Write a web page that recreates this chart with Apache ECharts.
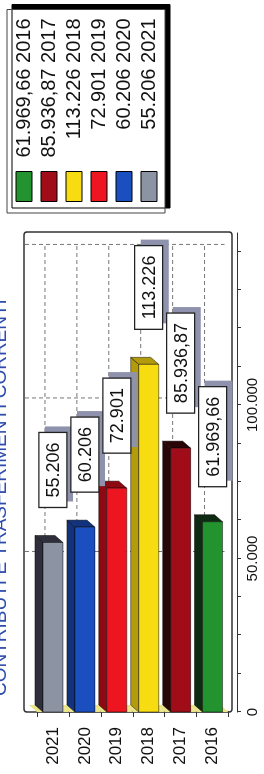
<!DOCTYPE html>
<html><head><meta charset="utf-8">
<script src="https://cdn.jsdelivr.net/npm/echarts@6/dist/echarts.min.js"></script>
<style>
html,body{margin:0;padding:0;width:264px;height:774px;overflow:hidden;background:#fff}
#chart{position:absolute;left:0;top:0;width:774px;height:264px;transform-origin:0 0;transform:translate(0,774px) rotate(-90deg);}
</style></head><body><div id="chart"></div>
<script>
// ---- data ----
const categories = ['2016', '2017', '2018', '2019', '2020', '2021'];
const values = [61969.66, 85936.87, 113226, 72901, 60206, 55206];
const valueTickLabels = [0, 50000, 100000];
const gridValues = [50000, 100000, 150000];
const titleText = 'CONTRIBUTI E TRASFERIMENTI CORRENTI';

// ---- styles ----
const faceColors = ['#22932f', '#a00c18', '#f7dc12', '#ec1520', '#1b4fbf', '#8c93a3'];
const sideColors = ['#0f2a12', '#2a0508', '#b39b0c', '#8e0a12', '#12327e', '#2e2f3a'];
const FONT = 'Liberation Sans, Arial, Helvetica, sans-serif';
const LABEL_FONT = '18px ' + FONT;
const DX = 7, DY = -8, HALF = 10;

const measureCtx = document.createElement('canvas').getContext('2d');
function textWidth(t, font) { measureCtx.font = font; return measureCtx.measureText(t).width; }

function fmtIt(v) {
  let intPart, dec = '';
  if (Number.isInteger(v)) intPart = String(v);
  else { const s = v.toFixed(2).split('.'); intPart = s[0]; dec = s[1]; }
  intPart = intPart.replace(/\B(?=(\d{3})+(?!\d))/g, '.');
  return intPart + (dec ? ',' + dec : '');
}

function barRender(i) {
  return function (params, api) {
    const val = api.value(0), cat = api.value(1);
    const p0 = api.coord([0, cat]), p1 = api.coord([val, cat]);
    const top = p0[1] - HALF, bot = p0[1] + HALF;
    const x0 = p0[0], x1 = p1[0];
    const stroke = 'rgba(0,0,0,0.6)';
    const txt = fmtIt(val);
    const bw = textWidth(txt, LABEL_FONT) + 20, bh = 28;
    const bx = x1 + 35, by = p0[1] - bh / 2;
    return {
      type: 'group', children: [
        { type: 'polygon', shape: { points: [[x0, top], [x1, top], [x1 + DX, top + DY], [x0 + DX, top + DY]] },
          style: { fill: sideColors[i], stroke: stroke, lineWidth: 0.8 } },
        { type: 'polygon', shape: { points: [[x1, top], [x1, bot], [x1 + DX, bot + DY], [x1 + DX, top + DY]] },
          style: { fill: sideColors[i], stroke: stroke, lineWidth: 0.8 } },
        { type: 'rect', shape: { x: x0, y: top, width: x1 - x0, height: bot - top },
          style: { fill: faceColors[i], stroke: stroke, lineWidth: 0.8 } },
        { type: 'rect', z2: 40, shape: { x: bx + 6, y: by + 6, width: bw, height: bh },
          style: { fill: '#8e92ac', stroke: null } },
        { type: 'rect', z2: 41, shape: { x: bx, y: by, width: bw, height: bh },
          style: { fill: '#fff', stroke: '#222', lineWidth: 1.3 } },
        { type: 'text', z2: 42, x: bx + 10, y: p0[1] + 1,
          style: { text: txt, font: LABEL_FONT, fill: '#111', align: 'left', verticalAlign: 'middle' } }
      ]
    };
  };
}

const barSeries = categories.map((c, i) => ({
  type: 'custom', name: c, z: 3,
  itemStyle: { color: faceColors[i] },
  encode: { x: 0, y: 1 },
  data: [[values[i], c]],
  renderItem: barRender(i)
}));

const catLineSeries = {
  type: 'custom', name: 'catlines', z: 1, silent: true,
  encode: { x: 0, y: 1 },
  data: categories.map(c => [0, c]),
  renderItem: function (params, api) {
    const cat = api.value(1);
    const p = api.coord([0, cat]);
    const pt = api.coord([gridValues[gridValues.length - 1], cat]);
    const b = api.size([0, 1])[1];
    return {
      type: 'group', children: [
        { type: 'polygon', shape: { points: [[p[0], p[1] - b / 2], [p[0], p[1] + b / 2], [p[0] + DX, p[1] + b / 2 + DY], [p[0] + DX, p[1] - b / 2 + DY]] },
          style: { fill: '#ece48a', stroke: null } },
        { type: 'line', shape: { x1: p[0] + DX, y1: p[1] + DY, x2: pt[0] + DX, y2: p[1] + DY },
          style: { stroke: '#777', lineWidth: 1, lineDash: [4, 3] } }
      ]
    };
  }
};

const valLineSeries = {
  type: 'custom', name: 'vallines', z: 1, silent: true,
  encode: { x: 0, y: 1 },
  data: gridValues.map(v => [v, categories[0]]),
  renderItem: function (params, api) {
    const v = api.value(0);
    const b = api.size([0, 1])[1];
    const pT = api.coord([v, categories.length - 1]);
    const pB = api.coord([v, 0]);
    return { type: 'line', shape: { x1: pT[0] + DX, y1: pT[1] - b / 2 - 4 + DY, x2: pT[0] + DX, y2: pB[1] + b / 2 + 4 + DY },
      style: { stroke: '#777', lineWidth: 1, lineDash: [4, 3] } };
  }
};

const chart = echarts.init(document.getElementById('chart'), null, { renderer: 'canvas' });
chart.setOption({
  animation: false,
  backgroundColor: '#fff',
  title: { text: titleText, left: 78, top: -8, padding: 0,
    textStyle: { color: '#2d4cae', fontSize: 19, fontWeight: 'normal', fontFamily: FONT, lineHeight: 18 } },
  legend: {
    data: categories, orient: 'vertical', left: 561, top: 7,
    padding: [7, 9, 6, 11], itemWidth: 30, itemHeight: 16, itemGap: 5, icon: 'rect',
    backgroundColor: '#fff', borderColor: '#444', borderWidth: 1,
    shadowColor: '#000', shadowBlur: 0, shadowOffsetX: 5, shadowOffsetY: 5,
    itemStyle: { borderColor: '#000', borderWidth: 1 },
    selectedMode: false,
    formatter: name => '{v|' + fmtIt(values[categories.indexOf(name)]) + ' ' + name + '}',
    textStyle: { fontFamily: FONT, fontSize: 20, color: '#111', lineHeight: 16,
      rich: { v: { width: 148, align: 'right', fontSize: 20, lineHeight: 16, fontFamily: FONT, color: '#111' } } }
  },
  grid: { left: 62, right: 233, top: 37, bottom: 35.5, containLabel: false },
  xAxis: {
    type: 'value', min: 0, max: 156000, interval: 12500, position: 'bottom', offset: 8.5,
    axisLine: { show: true, lineStyle: { color: '#333', width: 1.2 } },
    axisTick: { show: true, length: 4, lineStyle: { color: '#333' } },
    splitLine: { show: false },
    axisLabel: { fontSize: 15, fontFamily: FONT, color: '#111', margin: 8, showMaxLabel: false,
      formatter: v => valueTickLabels.indexOf(v) >= 0 ? fmtIt(v) : '' }
  },
  yAxis: {
    type: 'category', data: categories,
    axisLine: { show: true, lineStyle: { color: '#222', width: 1.2 } },
    axisTick: { show: true, length: 5, lineStyle: { color: '#333' } },
    splitLine: { show: false },
    axisLabel: { fontSize: 17, fontFamily: FONT, color: '#111', margin: 15 }
  },
  graphic: [
    { type: 'rect', z: 1, silent: true, shape: { x: 62, y: 24, width: 480, height: 208, r: 3 },
      style: { fill: null, stroke: '#333', lineWidth: 1.5 } }
  ],
  series: [catLineSeries, valLineSeries].concat(barSeries)
});
</script></body></html>
